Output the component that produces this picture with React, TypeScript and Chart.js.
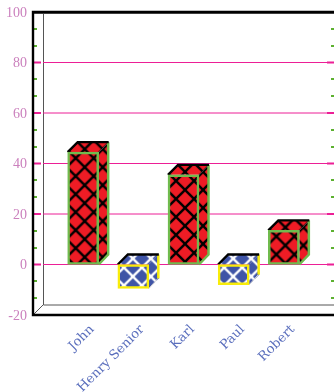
import React, { useEffect, useRef } from "react";
import { Chart, registerables } from "chart.js";

Chart.register(...registerables);

// Blank labels at both ends keep the bars away from the axes.
const categories = ["", "John", "Henry Senior", "Karl", "Paul", "Robert", ""];
const values = [null, 44.5, -9.5, 35.5, -8, 13.5, null];
const yMin = -20;
const yMax = 100;
const yStep = 20;
const minorPerMajor = 3;

const redFill = "#ee1c25";
const blueFill = "#3f54a6";
const greenEdge = "#70bb4e";
const yellowEdge = "#f8ec0a";
const gridPink = "#ec1f96";
const minorGreen = "#5cb030";
const yLabelColor = "#cb80bd";
const xLabelColor = "#5b6fbd";

const DEPTH = 10;
const TILE = 18;

function hatch(ctx: CanvasRenderingContext2D, bg: string, fg: string) {
  const c = document.createElement("canvas");
  c.width = TILE;
  c.height = TILE;
  const g = c.getContext("2d")!;
  g.fillStyle = bg;
  g.fillRect(0, 0, TILE, TILE);
  g.strokeStyle = fg;
  g.lineWidth = 2.4;
  g.beginPath();
  g.moveTo(-2, -2);
  g.lineTo(TILE + 2, TILE + 2);
  g.moveTo(-2, TILE + 2);
  g.lineTo(TILE + 2, -2);
  g.stroke();
  return ctx.createPattern(c, "repeat")!;
}

// Clears the margins the scales reserve for their outermost labels.
function fixedFit(key: "width" | "height", size: number) {
  return (s: any) => {
    s[key] = size;
    s.paddingLeft = s.paddingRight = s.paddingTop = s.paddingBottom = 0;
  };
}

// Back wall, floor, grid lines and tick marks, all placed from the scales.
const framePlugin = {
  id: "frame3d",
  beforeDatasetsDraw(chart: any) {
    const { ctx, chartArea: a, scales } = chart;
    const y = scales.y;
    const wallX = a.left + DEPTH;
    const floorY = a.bottom - DEPTH;
    ctx.save();

    ctx.strokeStyle = "#555555";
    ctx.lineWidth = 1;
    ctx.beginPath();
    ctx.moveTo(wallX + 0.5, a.top);
    ctx.lineTo(wallX + 0.5, floorY);
    ctx.lineTo(a.right, floorY);
    ctx.moveTo(a.left, a.top + 1.5);
    ctx.lineTo(a.right, a.top + 1.5);
    ctx.moveTo(a.left, a.bottom);
    ctx.lineTo(wallX, floorY);
    ctx.stroke();

    for (let v = yMin + yStep; v < yMax; v += yStep) {
      const py = y.getPixelForValue(v);
      ctx.strokeStyle = gridPink;
      ctx.lineWidth = 1;
      ctx.beginPath();
      ctx.moveTo(wallX, py);
      ctx.lineTo(a.right, py);
      ctx.stroke();
      ctx.lineWidth = 2;
      ctx.beginPath();
      ctx.moveTo(a.left, py);
      ctx.lineTo(a.left + 8, py);
      ctx.moveTo(a.right - 7, py);
      ctx.lineTo(a.right, py);
      ctx.stroke();
    }

    ctx.strokeStyle = minorGreen;
    ctx.lineWidth = 2;
    for (let m = yMin; m < yMax; m += yStep) {
      for (let k = 1; k < minorPerMajor; k++) {
        const py = Math.round(y.getPixelForValue(m + (k * yStep) / minorPerMajor));
        ctx.beginPath();
        ctx.moveTo(a.left, py);
        ctx.lineTo(a.left + 4, py);
        ctx.moveTo(a.right - 3, py);
        ctx.lineTo(a.right, py);
        ctx.stroke();
      }
    }

    // Side and top faces of each bar, extruded from the bar's own rectangle.
    const meta = chart.getDatasetMeta(0);
    const ds = chart.data.datasets[0];
    meta.data.forEach((bar: any, i: number) => {
      if (values[i] == null) return;
      const { x, y: vy, base, width } = bar.getProps(["x", "y", "base", "width"], true);
      const left = x - width / 2;
      const right = x + width / 2;
      const top = Math.min(vy, base);
      const bottom = Math.max(vy, base);
      const fill = ds.backgroundColor[i];
      const edge = ds.borderColor[i];
      const negative = (values[i] as number) < 0;

      // The hatch starts from each bar's own corner.
      fill.setTransform(
        new DOMMatrix().translate(left + (negative ? 15 : 17), top + (negative ? 12 : 15))
      );

      ctx.fillStyle = fill;
      ctx.beginPath();
      ctx.moveTo(right, top);
      ctx.lineTo(right + DEPTH, top - DEPTH);
      ctx.lineTo(right + DEPTH, bottom - DEPTH);
      ctx.lineTo(right, bottom);
      ctx.closePath();
      ctx.fill();
      ctx.beginPath();
      ctx.moveTo(left, top);
      ctx.lineTo(left + DEPTH, top - DEPTH);
      ctx.lineTo(right + DEPTH, top - DEPTH);
      ctx.lineTo(right, top);
      ctx.closePath();
      ctx.fill();

      ctx.strokeStyle = edge;
      ctx.lineWidth = 2.5;
      ctx.beginPath();
      ctx.moveTo(right + DEPTH - 0.5, top - DEPTH);
      ctx.lineTo(right + DEPTH - 0.5, bottom - DEPTH);
      if (!negative) ctx.lineTo(right, bottom);
      ctx.stroke();
      if (negative) {
        ctx.strokeStyle = "#d4d4d4";
        ctx.lineWidth = 1;
        ctx.beginPath();
        ctx.moveTo(right + DEPTH - 1, bottom - DEPTH);
        ctx.lineTo(right, bottom);
        ctx.stroke();
      }

      ctx.strokeStyle = "#000000";
      ctx.lineWidth = 2.4;
      ctx.beginPath();
      ctx.moveTo(left, top);
      ctx.lineTo(left + DEPTH, top - DEPTH);
      ctx.lineTo(right + DEPTH, top - DEPTH);
      ctx.stroke();
    });
    ctx.restore();
  },
  afterDatasetsDraw(chart: any) {
    // Heavy outer axes sit on top of everything else.
    const { ctx, chartArea: a } = chart;
    ctx.save();
    ctx.strokeStyle = "#000000";
    ctx.lineWidth = 2.4;
    ctx.beginPath();
    ctx.moveTo(a.right, a.top);
    ctx.lineTo(a.left, a.top);
    ctx.lineTo(a.left, a.bottom);
    ctx.lineTo(a.right, a.bottom);
    ctx.stroke();
    ctx.restore();
  },
};

export default function App() {
  const ref = useRef<HTMLCanvasElement>(null);

  useEffect(() => {
    const canvas = ref.current!;
    const ctx = canvas.getContext("2d")!;
    const chart = new Chart(canvas, {
      type: "bar",
      data: {
        labels: categories,
        datasets: [
          {
            data: values,
            barThickness: 31,
            borderWidth: 2.5,
            borderSkipped: false,
            backgroundColor: values.map((v) =>
              (v ?? 0) < 0 ? hatch(ctx, blueFill, "#ffffff") : hatch(ctx, redFill, "#000000")
            ),
            borderColor: values.map((v) => ((v ?? 0) < 0 ? yellowEdge : greenEdge)),
          },
        ],
      },
      plugins: [framePlugin],
      options: {
        responsive: false,
        animation: false,
        layout: { padding: { top: 12, left: 0, right: 0, bottom: 0 } },
        plugins: { legend: { display: false }, tooltip: { enabled: false } },
        scales: {
          x: {
            offset: false,
            afterFit: fixedFit("height", 77),
            grid: { display: false },
            border: { display: false },
            ticks: {
              autoSkip: false,
              minRotation: 45,
              maxRotation: 45,
              padding: -1,
              labelOffset: 9,
              color: xLabelColor,
              font: { family: "'DejaVu Serif'", size: 13 },
            },
          },
          y: {
            min: yMin,
            max: yMax,
            afterFit: fixedFit("width", 33),
            grid: { display: false, tickLength: 0 },
            border: { display: false },
            ticks: {
              stepSize: yStep,
              padding: 6,
              labelOffset: 1,
              color: yLabelColor,
              font: { family: "'Liberation Serif'", size: 14 },
            },
          },
        },
      },
    } as any);
    return () => chart.destroy();
  }, []);

  return (
    <div style={{ position: "fixed", left: 0, top: 0 }}>
      <canvas ref={ref} width={334} height={392} style={{ display: "block" }} />
    </div>
  );
}
